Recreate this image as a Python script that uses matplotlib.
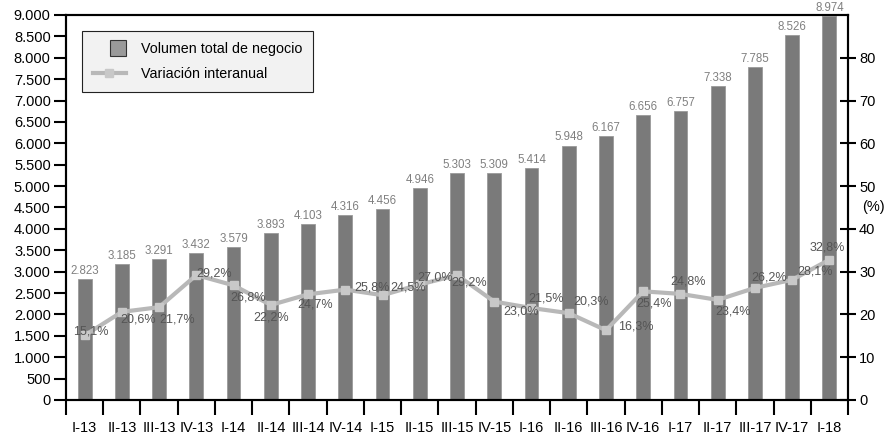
import numpy as np
import matplotlib.pyplot as plt
from matplotlib.patches import Rectangle
from matplotlib.legend_handler import HandlerPatch

plt.rcParams['font.family'] = ['Liberation Sans', 'DejaVu Sans']

# Quarterly business volume and year-on-year change
quarters = ['I-13', 'II-13', 'III-13', 'IV-13', 'I-14', 'II-14', 'III-14', 'IV-14',
            'I-15', 'II-15', 'III-15', 'IV-15', 'I-16', 'II-16', 'III-16', 'IV-16',
            'I-17', 'II-17', 'III-17', 'IV-17', 'I-18']
volumen = [2823, 3185, 3291, 3432, 3579, 3893, 4103, 4316, 4456, 4946, 5303,
           5309, 5414, 5948, 6167, 6656, 6757, 7338, 7785, 8526, 8974]
variacion = [15.1, 20.6, 21.7, 29.2, 26.8, 22.2, 24.7, 25.8, 24.5, 27.0, 29.2,
             23.0, 21.5, 20.3, 16.3, 25.4, 24.8, 23.4, 26.2, 28.1, 32.8]

# label offsets (pixels) for the percentage annotations
pct_off = [(6, 4), (16, -8), (18, -12), (18, 2), (14, -12), (0, -12), (7, -10),
           (27, 2), (26, 8), (15, 7), (12, -7), (27, -10), (15, 10), (22, 12),
           (30, 4), (11, -12), (8, 12), (15, -12), (14, 10), (23, 8), (-2, 12)]


def square_handle(legend, orig_handle, xdescent, ydescent, width, height, fontsize):
    s = 11.5
    return Rectangle((width - s - xdescent, height / 2 - s / 2 - ydescent), s, s)


fig = plt.figure(figsize=(8.85, 4.36), dpi=100)
ax = fig.add_axes([0.0746, 0.0826, 0.8836, 0.883])
x = np.arange(len(quarters))

bars = ax.bar(x, volumen, width=0.37, color='#7a7a7a', edgecolor='#9a9a9a',
              linewidth=0.6, zorder=2)
for xi, v in zip(x, volumen):
    ax.annotate(f'{v:,}'.replace(',', '.'), (xi, v), xytext=(0, 1.5),
                textcoords='offset points', ha='center', va='bottom',
                fontsize=8.3, color='#808080')

ax.set_xlim(-0.5, len(quarters) - 0.5)
ax.set_ylim(0, 9000)
ax.set_yticks(np.arange(0, 9001, 500))
ax.set_yticklabels([f'{int(t):,}'.replace(',', '.') for t in np.arange(0, 9001, 500)])
ax.tick_params(axis='y', direction='out', length=9, width=1.5, labelsize=10.5, pad=2)

ax.set_xticks(x)
ax.set_xticklabels(quarters)
ax.set_xticks(np.arange(-0.5, len(quarters)), minor=True)
ax.tick_params(axis='x', which='major', length=0, labelsize=10.5, pad=15)
ax.tick_params(axis='x', which='minor', direction='out', length=11, width=1.5)

for s in ax.spines.values():
    s.set_linewidth(1.5)

ax2 = ax.twinx()
line, = ax2.plot(x, variacion, color='#b8b8b8', lw=3, marker='s', ms=6,
                 mfc='#c8c8c8', mec='#c8c8c8', zorder=3)
for xi, p, (dx, dy) in zip(x, variacion, pct_off):
    ax2.annotate(f'{p:.1f}%'.replace('.', ','), (xi, p), xytext=(dx, dy),
                 textcoords='offset pixels', ha='center', va='center',
                 fontsize=9, color='#555555', zorder=4)
ax2.set_ylim(0, 90)
ax2.set_yticks(np.arange(0, 81, 10))
ax2.tick_params(axis='y', direction='inout', length=12, width=1.5, labelsize=10.5, pad=2)
ax2.text(1.018, 0.5, '(%)', transform=ax2.transAxes, fontsize=10.5, va='center')
for s in ax2.spines.values():
    s.set_linewidth(1.5)

legend_box = Rectangle((0, 0), 1, 1, facecolor='#9a9a9a', edgecolor='#333333', linewidth=0.8)
leg = ax2.legend([legend_box, line], ['Volumen total de negocio', 'Variación interanual'],
                 loc='upper left', bbox_to_anchor=(0.0205, 0.958), fontsize=10.3,
                 fancybox=False, edgecolor='#222222', facecolor='#f2f2f2', framealpha=1,
                 handlelength=2.3, handletextpad=1.05, borderpad=0.75,
                 labelspacing=0.8, borderaxespad=0,
                 handler_map={Rectangle: HandlerPatch(patch_func=square_handle)})
leg.get_frame().set_linewidth(0.8)
leg.set_zorder(5)

fig.savefig('out.png', dpi=100)
